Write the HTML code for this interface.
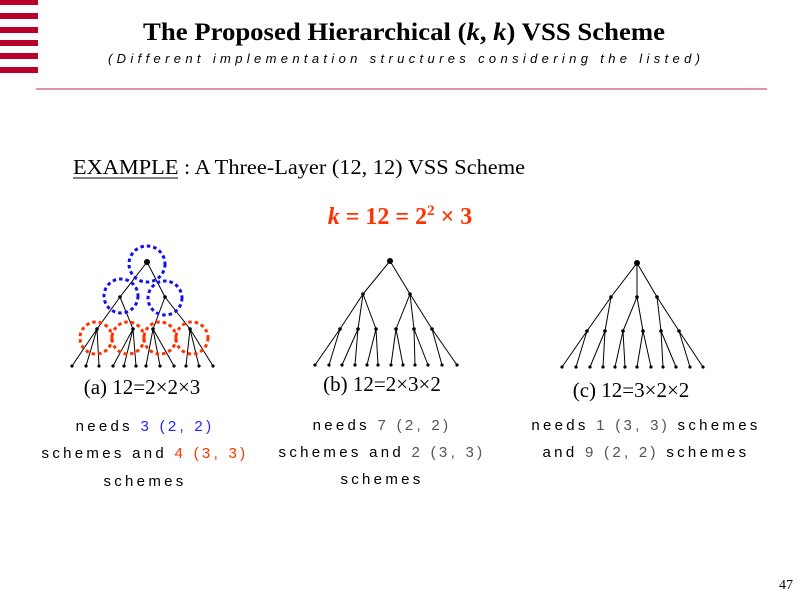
<!DOCTYPE html>
<html><head><meta charset="utf-8"><style>
html,body{margin:0;padding:0;background:#fff;}
svg{display:block;}
.n{font-family:"Liberation Sans",sans-serif;font-size:15px;letter-spacing:3.3px;fill:#000;}
</style></head><body>
<svg width="800" height="600" viewBox="0 0 800 600" xmlns="http://www.w3.org/2000/svg">
<g fill="#b8002a">
<rect x="0" y="0" width="38" height="5"/>
<rect x="0" y="13" width="38" height="6"/>
<rect x="0" y="27" width="38" height="6"/>
<rect x="0" y="40" width="38" height="6"/>
<rect x="0" y="53" width="38" height="6"/>
<rect x="0" y="67" width="38" height="6"/>
</g>
<text x="404" y="40" text-anchor="middle" textLength="522" lengthAdjust="spacingAndGlyphs" font-family="Liberation Serif,serif" font-weight="bold" font-size="25">The Proposed Hierarchical (<tspan font-style="italic">k</tspan>, <tspan font-style="italic">k</tspan>) VSS Scheme</text>
<text x="108" y="63" textLength="592" lengthAdjust="spacing" font-family="Liberation Sans,sans-serif" font-style="italic" font-size="13">(Different implementation structures considering the listed)</text>
<line x1="36" y1="89" x2="767" y2="89" stroke="#d87080" stroke-width="1.5"/>

<text x="73" y="174" textLength="452" lengthAdjust="spacingAndGlyphs" font-family="Liberation Serif,serif" font-size="21">EXAMPLE : A Three-Layer (12, 12) VSS Scheme</text>
<line x1="73" y1="178" x2="178" y2="178" stroke="#000" stroke-width="1"/>
<text x="400" y="224" text-anchor="middle" font-family="Liberation Serif,serif" font-weight="bold" font-size="24" fill="#ff3300"><tspan font-style="italic">k</tspan> = 12 = 2<tspan font-size="15" dy="-9">2</tspan><tspan dy="9"> × 3</tspan></text>

<g stroke="#000" stroke-width="1" fill="none">
<path d="M147 262L120 297M147 262L165 297
M120 297L97 329M120 297L133 329M165 297L153 329M165 297L190 329
M97 329L72 366M97 329L86 366M97 329L99 366
M133 329L113 366M133 329L124 366M133 329L136 366
M153 329L146 366M153 329L160 366M153 329L174 366
M190 329L186 366M190 329L199 366M190 329L213 366"/>
<path d="M390 261L363 294M390 261L410 294
M363 294L340 329M363 294L358 329M363 294L376 329
M410 294L396 329M410 294L414 329M410 294L432 329
M340 329L315 365M340 329L329 365M358 329L342 365M358 329L355 365
M376 329L367 365M376 329L378 365M396 329L391 365M396 329L403 365
M414 329L415 365M414 329L428 365M432 329L442 365M432 329L457 365"/>
<path d="M637 263L611 297M637 263L637 297M637 263L657 297
M611 297L587 331M611 297L605 331M637 297L623 331M637 297L643 331M657 297L661 331M657 297L679 331
M587 331L562 367M587 331L576 367M605 331L590 367M605 331L603 367
M623 331L615 367M623 331L625 367M643 331L637 367M643 331L651 367
M661 331L663 367M661 331L676 367M679 331L690 367M679 331L703 367"/>
</g>
<g fill="#000">
<circle cx="147" cy="262" r="3"/><circle cx="390" cy="261" r="3"/><circle cx="637" cy="263" r="3"/>
<circle cx="120" cy="297" r="1.8"/><circle cx="165" cy="297" r="1.8"/>
<circle cx="97" cy="329" r="1.8"/><circle cx="133" cy="329" r="1.8"/><circle cx="153" cy="329" r="1.8"/><circle cx="190" cy="329" r="1.8"/>
<circle cx="363" cy="294" r="1.8"/><circle cx="410" cy="294" r="1.8"/>
<circle cx="340" cy="329" r="1.8"/><circle cx="358" cy="329" r="1.8"/><circle cx="376" cy="329" r="1.8"/><circle cx="396" cy="329" r="1.8"/><circle cx="414" cy="329" r="1.8"/><circle cx="432" cy="329" r="1.8"/>
<circle cx="611" cy="297" r="1.8"/><circle cx="637" cy="297" r="1.8"/><circle cx="657" cy="297" r="1.8"/>
<circle cx="587" cy="331" r="1.8"/><circle cx="605" cy="331" r="1.8"/><circle cx="623" cy="331" r="1.8"/><circle cx="643" cy="331" r="1.8"/><circle cx="661" cy="331" r="1.8"/><circle cx="679" cy="331" r="1.8"/>
</g>
<g fill="#000">
<circle cx="72" cy="366" r="1.6"/><circle cx="86" cy="366" r="1.6"/><circle cx="99" cy="366" r="1.6"/><circle cx="113" cy="366" r="1.6"/><circle cx="124" cy="366" r="1.6"/><circle cx="136" cy="366" r="1.6"/><circle cx="146" cy="366" r="1.6"/><circle cx="160" cy="366" r="1.6"/><circle cx="174" cy="366" r="1.6"/><circle cx="186" cy="366" r="1.6"/><circle cx="199" cy="366" r="1.6"/><circle cx="213" cy="366" r="1.6"/>
<circle cx="315" cy="365" r="1.6"/><circle cx="329" cy="365" r="1.6"/><circle cx="342" cy="365" r="1.6"/><circle cx="355" cy="365" r="1.6"/><circle cx="367" cy="365" r="1.6"/><circle cx="378" cy="365" r="1.6"/><circle cx="391" cy="365" r="1.6"/><circle cx="403" cy="365" r="1.6"/><circle cx="415" cy="365" r="1.6"/><circle cx="428" cy="365" r="1.6"/><circle cx="442" cy="365" r="1.6"/><circle cx="457" cy="365" r="1.6"/>
<circle cx="562" cy="367" r="1.6"/><circle cx="576" cy="367" r="1.6"/><circle cx="590" cy="367" r="1.6"/><circle cx="603" cy="367" r="1.6"/><circle cx="615" cy="367" r="1.6"/><circle cx="625" cy="367" r="1.6"/><circle cx="637" cy="367" r="1.6"/><circle cx="651" cy="367" r="1.6"/><circle cx="663" cy="367" r="1.6"/><circle cx="676" cy="367" r="1.6"/><circle cx="690" cy="367" r="1.6"/><circle cx="703" cy="367" r="1.6"/>
</g>
<g fill="none" stroke="#1010ee" stroke-width="3" stroke-dasharray="3.5 3">
<circle cx="147" cy="264" r="18"/>
<circle cx="121" cy="296" r="17"/>
<circle cx="165" cy="298" r="17"/>
</g>
<g fill="none" stroke="#ff3300" stroke-width="3" stroke-dasharray="3.5 3">
<circle cx="96" cy="338" r="16"/>
<circle cx="128" cy="338" r="16"/>
<circle cx="160" cy="338" r="16"/>
<circle cx="192" cy="338" r="16"/>
</g>

<g font-family="Liberation Serif,serif" font-size="21" text-anchor="middle">
<text x="142" y="394">(a) 12=2×2×3</text>
<text x="382" y="391">(b) 12=2×3×2</text>
<text x="631" y="397">(c) 12=3×2×2</text>
</g>
<g class="n" text-anchor="middle">
<text x="145" y="431">needs <tspan fill="#2222ff">3 (2, 2)</tspan></text>
<text x="145" y="458">schemes and <tspan fill="#ff3300">4 (3, 3)</tspan></text>
<text x="145" y="486">schemes</text>
<text x="382" y="430">needs <tspan fill="#555">7 (2, 2)</tspan></text>
<text x="382" y="457">schemes and <tspan fill="#555">2 (3, 3)</tspan></text>
<text x="382" y="484">schemes</text>
<text x="646" y="430">needs <tspan fill="#555">1 (3, 3)</tspan> schemes</text>
<text x="646" y="457">and <tspan fill="#555">9 (2, 2)</tspan> schemes</text>
</g>
<text x="793" y="589" text-anchor="end" font-family="Liberation Serif,serif" font-size="14">47</text>
</svg>
</body></html>
